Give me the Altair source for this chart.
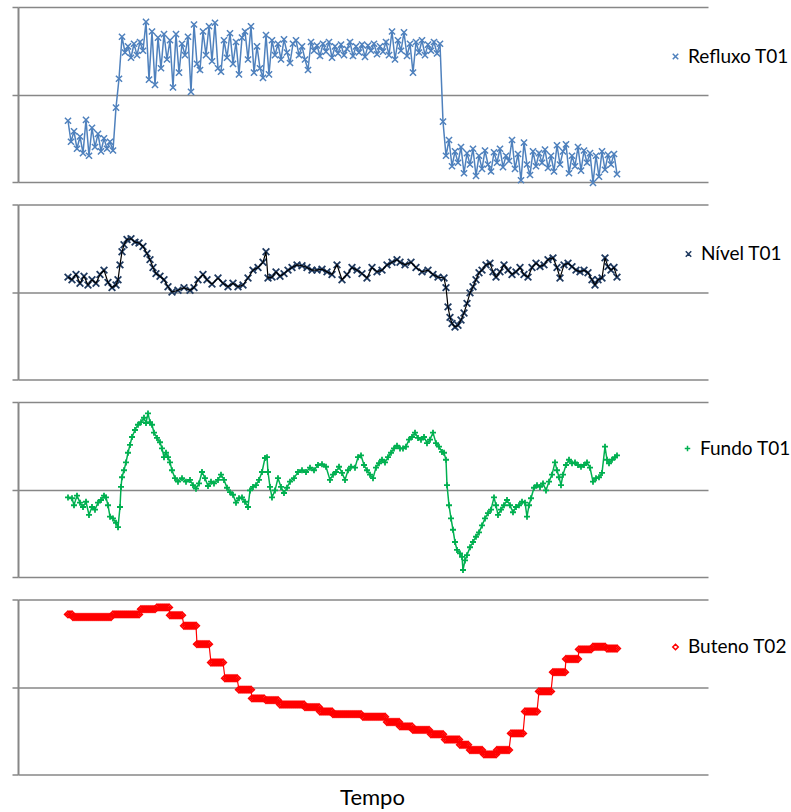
import altair as alt
import pandas as pd

# Time axis (arbitrary sample units) and value range shared by all four panels
T_DOMAIN = [18, 708]
V_DOMAIN = [0, 2]

# ---- Refluxo T01: one sample every 3 time units starting at t = 68 ----
refluxo_start = 68
refluxo_step = 3
refluxo_v = [
    # low regime
    0.70, 0.46, 0.58, 0.38, 0.52, 0.33, 0.71, 0.30, 0.62, 0.40, 0.55, 0.35, 0.50, 0.38, 0.46, 0.36,
    # step up
    0.85, 1.18, 1.66,
    # high regime
    1.48, 1.55, 1.42, 1.58, 1.45, 1.60, 1.50, 1.83, 1.17, 1.72,
    1.11, 1.65, 1.30, 1.69, 1.40, 1.62, 1.08, 1.69, 1.25, 1.58,
    1.45, 1.66, 1.03, 1.80, 1.35, 1.28, 1.72, 1.45, 1.78, 1.38,
    1.82, 1.30, 1.26, 1.62, 1.42, 1.70, 1.35, 1.60, 1.23, 1.65,
    1.72, 1.40, 1.78, 1.25, 1.55, 1.30, 1.19, 1.68, 1.23, 1.62,
    1.45, 1.58, 1.40, 1.63, 1.48, 1.36, 1.58, 1.62, 1.45, 1.55,
    1.40, 1.28, 1.60, 1.50, 1.56, 1.44, 1.58, 1.49, 1.60, 1.42,
    1.55, 1.47, 1.57, 1.45, 1.52, 1.60, 1.44, 1.55, 1.48, 1.57,
    1.43, 1.56, 1.50, 1.58, 1.46, 1.55, 1.49, 1.60, 1.45, 1.72,
    1.40, 1.62, 1.50, 1.71, 1.44, 1.58, 1.25, 1.60, 1.48, 1.62,
    1.45, 1.57, 1.50, 1.60, 1.47, 1.58,
    # step down
    0.69,
    # low regime
    0.30, 0.48, 0.18, 0.35, 0.22, 0.40, 0.10, 0.33, 0.20, 0.38,
    0.07, 0.30, 0.15, 0.36, 0.20, 0.12, 0.34, 0.22, 0.38, 0.17,
    0.30, 0.24, 0.48, 0.15, 0.32, 0.02, 0.45, 0.20, 0.08, 0.35,
    0.18, 0.33, 0.22, 0.37, 0.16, 0.30, 0.12, 0.42, 0.20, 0.35,
    0.43, 0.10, 0.30, 0.18, 0.40, 0.13, 0.36, 0.22, 0.33, -0.01,
    0.30, 0.06, 0.35, 0.14, 0.31, 0.20, 0.32, 0.09,
]

# ---- Nível T01 ----
nivel_t = [
    68, 72, 76, 80, 84, 88, 92, 96, 100, 104,
    108, 112, 116, 118, 120, 122, 124, 127, 131, 135,
    139, 143, 147, 150, 153, 156, 160, 164, 168, 172,
    178, 184, 190, 194, 198, 203, 207, 212, 218, 223,
    228, 233, 238, 243, 248, 253, 258, 263, 266, 268,
    272, 276, 280, 284, 288, 292, 297, 302, 307, 312,
    317, 322, 327, 332, 337, 342, 347, 352, 357, 362,
    367, 372, 377, 382, 387, 392, 397, 400, 405, 411,
    416, 422, 428, 433, 438, 444, 446, 448, 450, 452,
    455, 458, 461, 464, 467, 470, 473, 476, 479, 482,
    486, 490, 493, 496, 500, 504, 508, 512, 516, 520,
    524, 528, 532, 536, 540, 544, 548, 553, 557, 560,
    564, 568, 572, 576, 580, 584, 588, 592, 595, 598,
    602, 605, 608, 611, 614, 617,
]
nivel_v = [
    1.17, 1.14, 1.20, 1.10, 1.18, 1.08, 1.14, 1.10, 1.20, 1.25,
    1.11, 1.05, 1.08, 1.14, 1.31, 1.46, 1.54, 1.60, 1.61, 1.57,
    1.56, 1.52, 1.44, 1.37, 1.28, 1.21, 1.18, 1.14, 1.06, 1.00,
    1.02, 1.05, 1.02, 1.05, 1.14, 1.20, 1.14, 1.09, 1.16, 1.10,
    1.06, 1.10, 1.06, 1.08, 1.16, 1.25, 1.28, 1.34, 1.46, 1.16,
    1.17, 1.23, 1.18, 1.21, 1.25, 1.28, 1.31, 1.30, 1.28, 1.25,
    1.25, 1.26, 1.23, 1.20, 1.31, 1.14, 1.20, 1.28, 1.25, 1.21,
    1.16, 1.28, 1.23, 1.25, 1.31, 1.34, 1.37, 1.34, 1.31, 1.34,
    1.28, 1.23, 1.25, 1.20, 1.17, 1.16, 1.05, 0.83, 0.71, 0.64,
    0.60, 0.62, 0.68, 0.76, 0.87, 0.99, 1.06, 1.14, 1.22, 1.25,
    1.31, 1.33, 1.23, 1.17, 1.23, 1.31, 1.25, 1.20, 1.23, 1.28,
    1.20, 1.17, 1.28, 1.33, 1.29, 1.31, 1.37, 1.39, 1.28, 1.16,
    1.31, 1.33, 1.29, 1.25, 1.23, 1.25, 1.22, 1.14, 1.08, 1.14,
    1.16, 1.39, 1.29, 1.25, 1.28, 1.17,
]

# ---- Fundo T01 ----
fundo_t = [
    68, 72, 74, 77, 80, 83, 86, 89, 92, 95,
    98, 101, 104, 106, 108, 110, 113, 116, 118, 120,
    121, 122, 124, 126, 128, 130, 132, 135, 138, 141,
    144, 146, 148, 150, 152, 154, 157, 160, 162, 164,
    166, 168, 170, 172, 175, 178, 182, 186, 190, 193,
    196, 199, 202, 205, 208, 211, 214, 218, 221, 224,
    227, 230, 233, 236, 239, 242, 245, 248, 250, 253,
    256, 259, 262, 265, 267, 268, 270, 272, 275, 278,
    281, 284, 287, 290, 294, 298, 302, 306, 310, 314,
    318, 322, 326, 330, 333, 336, 339, 342, 345, 348,
    351, 355, 358, 361, 364, 367, 370, 373, 376, 379,
    382, 385, 388, 391, 394, 397, 400, 403, 406, 409,
    412, 415, 418, 421, 424, 427, 430, 433, 436, 439,
    442, 444, 446, 447, 449, 451, 453, 455, 457, 460,
    462, 463, 465, 467, 470, 473, 476, 479, 482, 485,
    488, 491, 494, 496, 498, 501, 504, 507, 510, 513,
    516, 519, 522, 525, 527, 529, 531, 534, 537, 540,
    543, 546, 549, 552, 555, 557, 559, 561, 563, 566,
    569, 572, 575, 578, 581, 584, 587, 590, 593, 596,
    599, 602, 605, 607, 609, 612, 615, 617,
]
fundo_v = [
    0.91, 0.90, 0.82, 0.93, 0.85, 0.80, 0.86, 0.71, 0.80, 0.77,
    0.85, 0.88, 0.93, 0.91, 0.82, 0.69, 0.67, 0.62, 0.57, 0.80,
    1.03, 1.14, 1.22, 1.31, 1.42, 1.51, 1.60, 1.68, 1.74, 1.77,
    1.82, 1.76, 1.87, 1.77, 1.74, 1.65, 1.59, 1.54, 1.47, 1.37,
    1.42, 1.37, 1.31, 1.22, 1.13, 1.09, 1.13, 1.09, 1.11, 1.05,
    1.01, 1.07, 1.20, 1.13, 1.04, 1.09, 1.07, 1.11, 1.17, 1.11,
    1.02, 0.97, 0.94, 0.85, 0.90, 0.91, 0.86, 0.80, 0.99, 1.03,
    1.05, 1.11, 1.20, 1.36, 1.37, 1.20, 1.03, 0.91, 0.99, 1.13,
    1.03, 0.96, 1.02, 1.09, 1.13, 1.20, 1.22, 1.20, 1.25, 1.22,
    1.28, 1.29, 1.26, 1.11, 1.17, 1.20, 1.26, 1.19, 1.11, 1.22,
    1.26, 1.25, 1.37, 1.39, 1.28, 1.22, 1.17, 1.13, 1.25, 1.30,
    1.34, 1.31, 1.37, 1.42, 1.47, 1.50, 1.47, 1.47, 1.49, 1.57,
    1.60, 1.65, 1.59, 1.57, 1.60, 1.53, 1.57, 1.65, 1.53, 1.49,
    1.43, 1.42, 1.34, 1.05, 0.82, 0.67, 0.54, 0.40, 0.31, 0.27,
    0.23, 0.08, 0.19, 0.25, 0.34, 0.40, 0.46, 0.51, 0.59, 0.67,
    0.73, 0.77, 0.91, 0.82, 0.71, 0.77, 0.82, 0.88, 0.82, 0.74,
    0.80, 0.82, 0.86, 0.85, 0.69, 0.82, 0.90, 1.02, 1.05, 1.03,
    1.07, 0.99, 1.09, 1.17, 1.31, 1.22, 1.14, 1.05, 1.17, 1.28,
    1.34, 1.30, 1.31, 1.28, 1.26, 1.28, 1.31, 1.25, 1.09, 1.13,
    1.14, 1.19, 1.49, 1.34, 1.30, 1.34, 1.37, 1.39,
]

# ---- Buteno T02: analyser output held constant between updates ----
buteno_step_start = [
    68, 73, 113, 141, 157, 170, 184, 197, 211, 225, 239, 252, 266, 280, 305,
    320, 333, 363, 387, 400, 413, 431, 445, 460, 470, 484, 497, 511, 525, 539,
    553, 566, 579, 593, 607,
]
buteno_step_end = 618
buteno_level = [
    1.83, 1.80, 1.83, 1.89, 1.91, 1.82, 1.70, 1.49, 1.28, 1.10, 0.97, 0.87, 0.85, 0.80, 0.77,
    0.72, 0.69, 0.66, 0.60, 0.55, 0.51, 0.46, 0.40, 0.34, 0.28, 0.23, 0.28, 0.47, 0.72, 0.95,
    1.17, 1.32, 1.43, 1.46, 1.44,
]
buteno_sample_every = 2

# ---- tables ----
refluxo_df = pd.DataFrame({
    "t": [refluxo_start + refluxo_step * i for i in range(len(refluxo_v))],
    "v": refluxo_v,
    "serie": "Refluxo T01",
})
nivel_df = pd.DataFrame({"t": nivel_t, "v": nivel_v, "serie": "Nível T01"})
fundo_df = pd.DataFrame({"t": fundo_t, "v": fundo_v, "serie": "Fundo T01"})

b_t, b_v = [], []
ends = buteno_step_start[1:] + [buteno_step_end]
for start, end, level in zip(buteno_step_start, ends, buteno_level):
    for t in range(start, end, buteno_sample_every):
        b_t.append(t)
        b_v.append(level)
buteno_df = pd.DataFrame({"t": b_t, "v": b_v, "serie": "Buteno T02"})

# ---- styling ----
GRID = "#878787"
FONT = "Lato"
X_MARK = "M-1,-1L1,1M-1,1L1,-1"
PLUS_MARK = "M-1,0L1,0M0,-1L0,1"

y_axis = alt.Axis(
    values=[0, 1, 2], labels=False, title=None,
    grid=True, gridColor=GRID, gridWidth=1.5,
    domainColor=GRID, domainWidth=2,
    ticks=True, tickColor=GRID, tickWidth=1.5, tickSize=6,
)

bottom_axis = alt.Axis(
    title="Tempo", labels=False, ticks=False, domain=False, grid=False,
    titleFont=FONT, titleFontSize=22, titleFontWeight="normal", titleColor="black",
    titleBaseline="alphabetic", titleY=30, titleX=354, titleAlign="center",
)


def panel(df, name, color, line_color, shape, size, stroke_w, line_w,
          legend_shape, legend_x, legend_y, line_on_top=False, x_axis=None):
    base = alt.Chart(df).encode(
        x=alt.X("t:Q", scale=alt.Scale(domain=T_DOMAIN, nice=False, zero=False), axis=x_axis),
        y=alt.Y("v:Q", scale=alt.Scale(domain=V_DOMAIN, nice=False, zero=False), axis=y_axis),
    )
    line = base.mark_line(color=line_color, strokeWidth=line_w)
    pts = base.mark_point(
        shape=shape, filled=False, size=size, strokeWidth=stroke_w, opacity=1
    ).encode(
        color=alt.Color(
            "serie:N",
            scale=alt.Scale(domain=[name], range=[color]),
            legend=alt.Legend(
                orient="none", legendX=legend_x, legendY=legend_y, title=None,
                symbolType=legend_shape, symbolSize=30, symbolStrokeWidth=1.5,
                labelFont=FONT, labelFontSize=19, labelColor="black",
                labelOffset=3, padding=0,
            ),
        )
    )
    layers = [pts, line] if line_on_top else [line, pts]
    return alt.layer(*layers).properties(width=690, height=175)


p_refluxo = panel(refluxo_df, "Refluxo T01", "#4F81BD", "#4F81BD", X_MARK, 38, 1.5, 1.5,
                  X_MARK, 648, 40)
p_nivel = panel(nivel_df, "Nível T01", "#1F3A60", "#000000", X_MARK, 45, 1.8, 1.2,
                X_MARK, 661, 40, line_on_top=True)
p_fundo = panel(fundo_df, "Fundo T01", "#00B050", "#00B050", PLUS_MARK, 36, 1.8, 1.5,
                PLUS_MARK, 660, 37)
p_buteno = panel(buteno_df, "Buteno T02", "#FF0000", "#FF0000", "diamond", 45, 1.6, 1.2,
                 "diamond", 648, 38, x_axis=bottom_axis)

chart = (
    alt.vconcat(p_refluxo, p_nivel, p_fundo, p_buteno, spacing=22.5, bounds="flush")
    .resolve_scale(color="independent")
    .resolve_legend(color="independent")
    .configure_view(stroke=None)
    .properties(padding={"left": 11, "top": 6, "right": 0, "bottom": 0}, background="white")
)

chart.save("out.html", embed_options={"renderer": "svg", "actions": False})
